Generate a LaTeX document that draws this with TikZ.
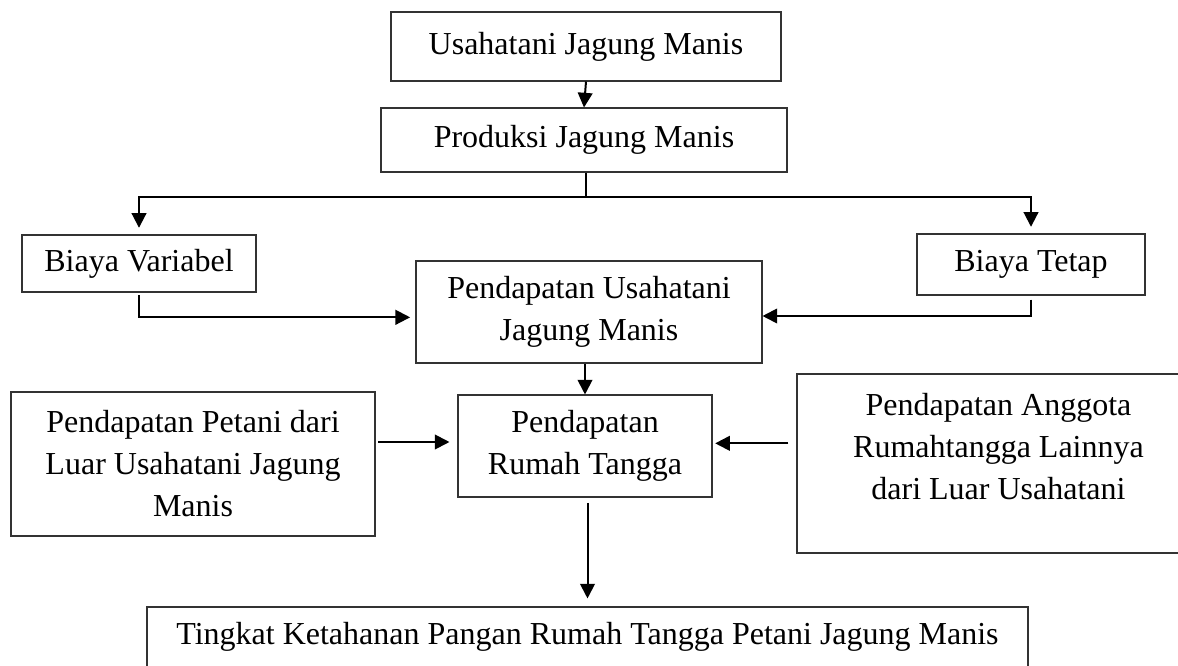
\documentclass[tikz,border=0pt]{standalone}
\usepackage{fontspec}
\setmainfont{Liberation Serif}
\usetikzlibrary{arrows.meta}
\begin{document}
\begin{tikzpicture}[x=0.75pt, y=-0.75pt,
    box/.style={draw=black!80, line width=0.8pt, inner sep=0pt, align=center,
                font=\fontsize{24}{31.5}\selectfont},
    arr/.style={line width=1.5pt, -{Triangle[length=11pt, width=11pt]}},
    txt/.style={inner sep=0pt, align=center, font=\fontsize{24}{31.5}\selectfont}]
    \clip (0,0) rectangle (1178,666);

    % Top
    \node[box, minimum width=292.5pt, minimum height=51.75pt] (usaha) at (586,46.5) {Usahatani Jagung Manis};
    \node[box, minimum width=304.5pt, minimum height=48pt] (produksi) at (584,140) {Produksi Jagung Manis};

    % Costs
    \node[box, minimum width=175.5pt, minimum height=42.75pt] (biayavar) at (139,263.5) {Biaya Variabel};
    \node[box, minimum width=171pt, minimum height=45.75pt] (biayatetap) at (1031,264.5) {Biaya Tetap};
    \node[box, minimum width=259.5pt, minimum height=76.5pt] (pusaha) at (589,312) {Pendapatan Usahatani\\Jagung Manis};

    % Household income
    \node[box, minimum width=273pt, minimum height=108pt] (petani) at (193,464) {Pendapatan Petani dari\\Luar Usahatani Jagung\\Manis};
    \node[box, minimum width=190.5pt, minimum height=76.5pt] (prt) at (585,446) {Pendapatan\\Rumah Tangga};
    \node[box, minimum width=302.25pt, minimum height=134.25pt] (anggota) at (998.5,463.5) {};
    \node[txt] (anggotatxt) at (998.5,447) {Pendapatan Anggota\\Rumahtangga Lainnya\\dari Luar Usahatani};

    % Bottom
    \node[box, minimum width=660.75pt, minimum height=45pt] (tingkat) at (587.5,637) {Tingkat Ketahanan Pangan Rumah Tangga Petani Jagung Manis};

    % Arrows
    \coordinate (split) at (586,197);
    \draw[arr] (usaha.south) -- (produksi.north);
    \draw[line width=0.8pt] (produksi.south -| split) -- ([yshift=-0.6pt]split);
    \draw[arr, shorten >=5pt] (split) -| (biayavar.north);
    \draw[arr, shorten >=5pt] (split) -| (biayatetap.north);
    \draw[arr, shorten <=2pt, shorten >=4pt] (biayavar.south) |- ([yshift=-4pt]pusaha.west);
    \draw[arr, shorten <=3pt] (biayatetap.south) |- ([yshift=-3pt]pusaha.east);
    \draw[arr] (pusaha.south -| prt.north) -- (prt.north);
    \draw[arr, shorten <=2pt, shorten >=6pt] ([yshift=3pt]petani.east |- prt.west) -- ([yshift=3pt]prt.west);
    \draw[arr, shorten <=6pt, shorten >=2pt] ([yshift=2pt]anggota.west |- prt.east) -- ([yshift=2pt]prt.east);
    \draw[arr, shorten <=4pt, shorten >=6pt] (prt.south -| tingkat.north) -- (tingkat.north);
\end{tikzpicture}
\end{document}
